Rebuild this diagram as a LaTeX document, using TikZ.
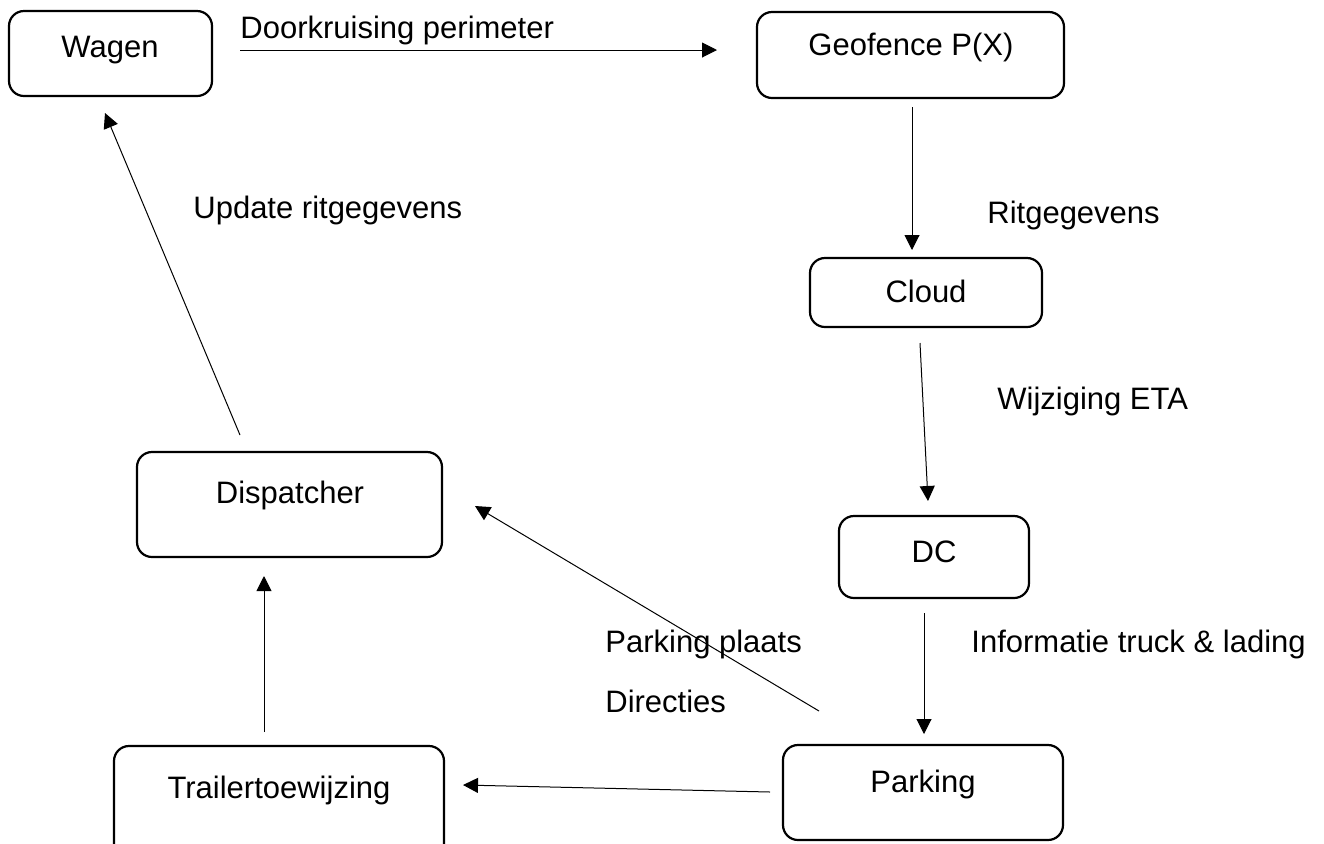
\documentclass[tikz,border=0pt]{standalone}
\usepackage{fontspec}
\setmainfont{Liberation Sans}
\usetikzlibrary{arrows.meta}
\tikzset{
  box/.style={draw, line width=1.1pt, rounded corners=7.5pt},
  txt/.style={inner sep=0pt, anchor=base, font=\fontsize{15.5}{18}\selectfont},
  lbl/.style={inner sep=0pt, anchor=base west, font=\fontsize{15.5}{18}\selectfont},
  arr/.style={line width=0.5pt, -{Triangle[length=7.5pt,width=7.5pt]}}
}
\begin{document}
\begin{tikzpicture}[x=0.5pt,y=-0.5pt]
\useasboundingbox (0,0) rectangle (1324,843);
\clip (0,0) rectangle (1324,843);
% boxes
\draw[box] (9,11) rectangle (212,96);
\draw[box] (757,12) rectangle (1064,98);
\draw[box] (810,258) rectangle (1042,327);
\draw[box] (839,516) rectangle (1029,598);
\draw[box] (783,745) rectangle (1063,840);
\draw[box] (114,746) rectangle (444,860);
\draw[box] (137,452) rectangle (442,557);
% box texts
\node[txt] (wagen) at (110,57) {Wagen};
\node[txt] (geo) at (911,55) {Geofence P(X)};
\node[txt] (cloud) at (926,302) {Cloud};
\node[txt] (dc) at (934,562) {DC};
\node[txt] (parking) at (923,792) {Parking};
\node[txt] (trailer) at (279,798) {Trailertoewijzing};
\node[txt] (disp) at (290,503) {Dispatcher};
% connector end points
\coordinate (a1) at (240,50);  \coordinate (b1) at (717,50);
\coordinate (a2) at (912,107); \coordinate (b2) at (912,250);
\coordinate (a3) at (920,343); \coordinate (b3) at (928,501);
\coordinate (a4) at (924,613); \coordinate (b4) at (924,734);
\coordinate (a5) at (770,792); \coordinate (b5) at (463,785);
\coordinate (a6) at (264,732); \coordinate (b6) at (264,576);
\coordinate (a7) at (819,711); \coordinate (b7) at (475,506);
\coordinate (a8) at (240,435); \coordinate (b8) at (105,113);
\draw[arr] (a1) -- (b1);
\draw[arr] (a2) -- (b2);
\draw[arr] (a3) -- (b3);
\draw[arr] (a4) -- (b4);
\draw[arr] (a5) -- (b5);
\draw[arr] (a6) -- (b6);
\draw[arr] (a7) -- (b7);
\draw[arr] (a8) -- (b8);
% labels
\node[lbl] (l1) at (240,38) {Doorkruising perimeter};
\node[lbl] (l2) at (987,223) {Ritgegevens};
\node[lbl] (l3) at (997,409) {Wijziging ETA};
\node[lbl] (l4) at (971,652) {Informatie truck \& lading};
\node[lbl] (l5) at (605,652) {Parking plaats};
\node[lbl] (l6) at (605,712) {Directies};
\node[lbl] (l7) at (193,218) {Update ritgegevens};
\end{tikzpicture}
\end{document}
